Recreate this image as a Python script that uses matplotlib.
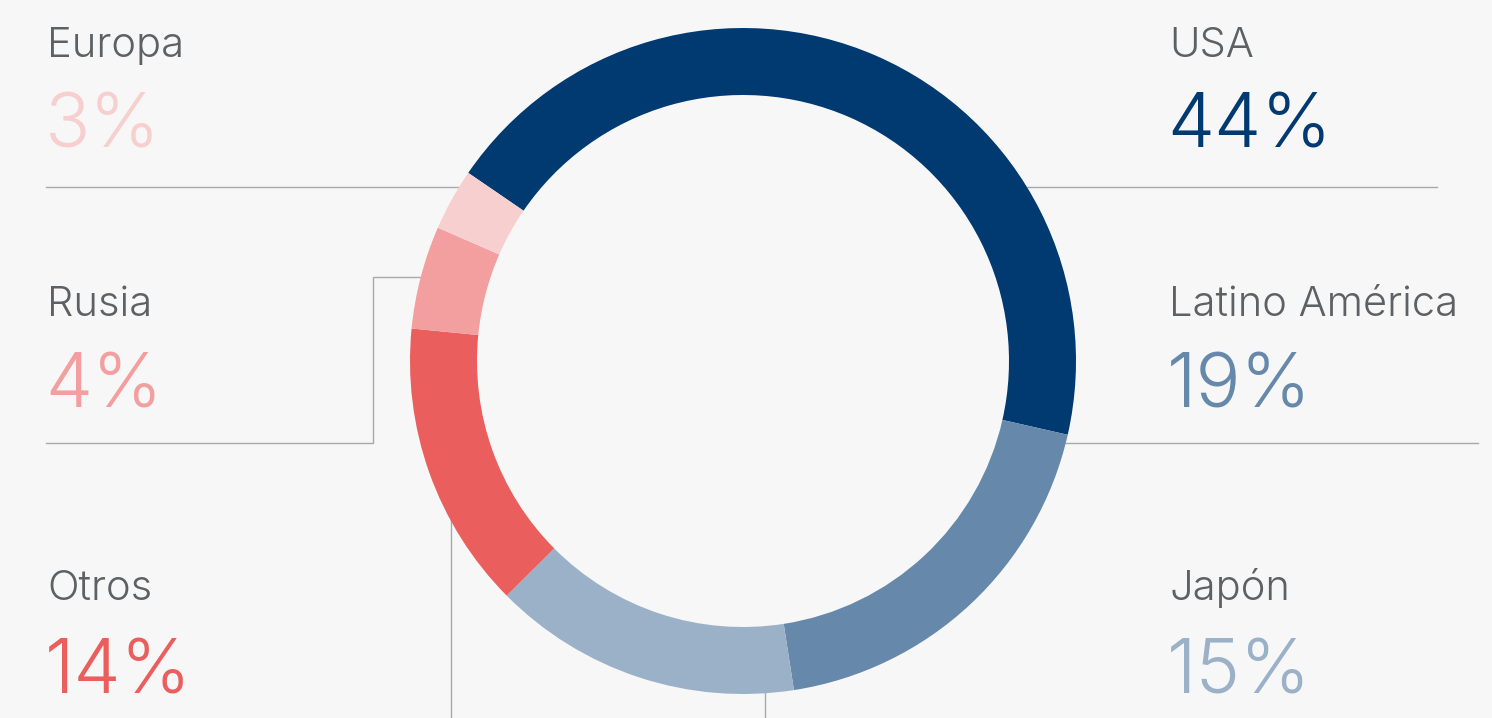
import matplotlib.pyplot as plt

# Data
regions = ["USA", "Latino América", "Japón", "Otros", "Rusia", "Europa"]
shares = [44, 19, 15, 14, 5, 3]          # angular shares as drawn
share_labels = ["44%", "19%", "15%", "14%", "4%", "3%"]  # text printed on the chart
colors = ["#003a70", "#6689ab", "#9bb1c8", "#eb5e5e", "#f39e9f", "#f8cfcf"]

W, H = 1492, 718
bg = "#f7f7f7"
label_color = "#5d6164"
line_color = "#a9a9a9"
family = "Inter"

fig = plt.figure(figsize=(W / 100, H / 100), dpi=100, facecolor=bg)
ax = fig.add_axes([0, 0, 1, 1])
ax.set_facecolor(bg)

# donut, centre/radius in pixel units (y measured from bottom)
cx, cy, r = 743, H - 361, 333
ax.pie(shares, colors=colors, startangle=145.6, counterclock=False,
       center=(cx, cy), radius=r,
       wedgeprops=dict(width=67, linewidth=0), frame=False)

ax.set_xlim(0, W)
ax.set_ylim(0, H)
ax.set_aspect("equal")
ax.axis("off")

def py(y):
    return H - y

# leader lines (drawn under the donut)
lw = 1.0
ax.plot([46, 460], [py(187), py(187)], color=line_color, lw=lw, zorder=0)
ax.plot([1025, 1437], [py(187), py(187)], color=line_color, lw=lw, zorder=0)
ax.plot([1062, 1478], [py(443), py(443)], color=line_color, lw=lw, zorder=0)
ax.plot([46, 373, 373, 425], [py(443), py(443), py(277), py(277)],
        color=line_color, lw=lw, zorder=0)
ax.plot([451, 451], [py(518), py(718)], color=line_color, lw=lw, zorder=0)
ax.plot([765, 765], [py(690), py(718)], color=line_color, lw=lw, zorder=0)

# label blocks: (index, x, name baseline, percent baseline)
blocks = [
    (5, 47, 57, 148),
    (4, 47, 316, 407),
    (3, 47, 600, 693),
    (0, 1169, 57, 148),
    (1, 1169, 316, 407),
    (2, 1169, 600, 693),
]
for i, x, yn, yp in blocks:
    ax.text(x, py(yn), regions[i], fontsize=30, color=label_color,
            family=family, weight=300, va="baseline", ha="left")
    ax.text(x - 2, py(yp), share_labels[i], fontsize=54, color=colors[i],
            family=family, weight=300, va="baseline", ha="left")

fig.savefig("out.png", dpi=100, facecolor=bg)
